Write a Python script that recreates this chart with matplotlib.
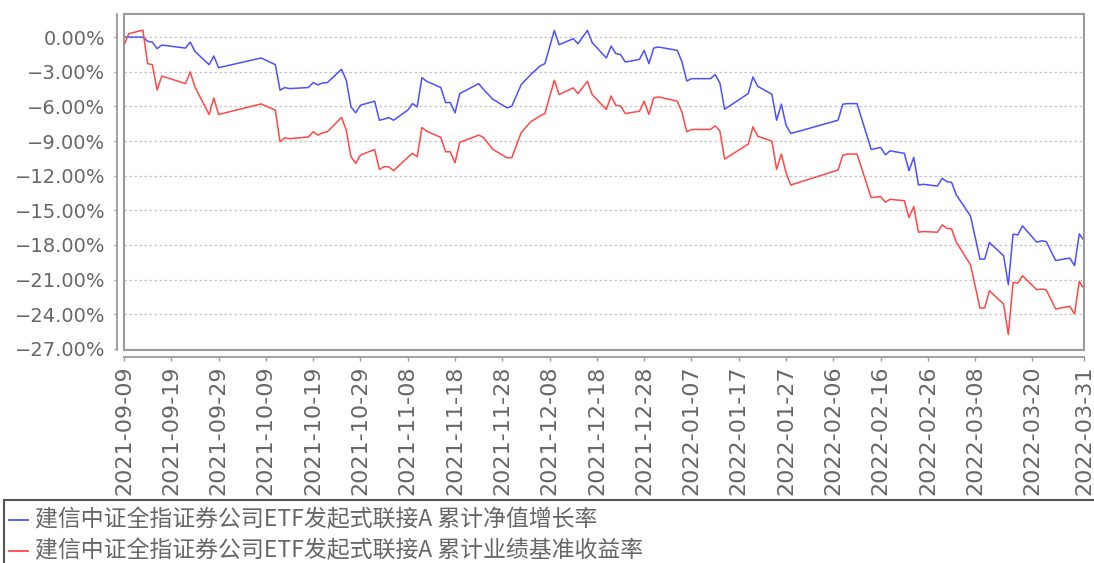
import matplotlib
matplotlib.use("Agg")
import matplotlib.pyplot as plt
from matplotlib.patches import Rectangle
from matplotlib.lines import Line2D
import pandas as pd

plt.rcParams["font.family"] = ["DejaVu Sans"]

# ── Data ──────────────────────────────────────────────────────────────────────

dates = [
    "2021-09-09", "2021-09-10", "2021-09-13", "2021-09-14", "2021-09-15", "2021-09-16",
    "2021-09-17", "2021-09-22", "2021-09-23", "2021-09-24", "2021-09-27", "2021-09-28",
    "2021-09-29", "2021-10-08", "2021-10-11", "2021-10-12", "2021-10-13", "2021-10-14",
    "2021-10-18", "2021-10-19", "2021-10-20", "2021-10-21", "2021-10-22", "2021-10-25",
    "2021-10-26", "2021-10-27", "2021-10-28", "2021-10-29", "2021-11-01", "2021-11-02",
    "2021-11-03", "2021-11-04", "2021-11-05", "2021-11-08", "2021-11-09", "2021-11-10",
    "2021-11-11", "2021-11-12", "2021-11-15", "2021-11-16", "2021-11-17", "2021-11-18",
    "2021-11-19", "2021-11-23", "2021-11-24", "2021-11-26", "2021-11-29", "2021-11-30",
    "2021-12-02", "2021-12-04", "2021-12-06", "2021-12-07", "2021-12-09", "2021-12-10",
    "2021-12-13", "2021-12-14", "2021-12-16", "2021-12-17", "2021-12-20", "2021-12-21",
    "2021-12-22", "2021-12-23", "2021-12-24", "2021-12-27", "2021-12-28", "2021-12-29",
    "2021-12-30", "2021-12-31", "2022-01-04", "2022-01-05", "2022-01-06", "2022-01-07",
    "2022-01-11", "2022-01-12", "2022-01-13", "2022-01-14", "2022-01-19", "2022-01-20",
    "2022-01-21", "2022-01-24", "2022-01-25", "2022-01-26", "2022-01-27", "2022-01-28",
    "2022-02-07", "2022-02-08", "2022-02-09", "2022-02-11", "2022-02-14", "2022-02-16",
    "2022-02-17", "2022-02-18", "2022-02-21", "2022-02-22", "2022-02-23", "2022-02-24",
    "2022-02-25", "2022-02-28", "2022-03-01", "2022-03-02", "2022-03-03", "2022-03-04",
    "2022-03-07", "2022-03-09", "2022-03-10", "2022-03-11", "2022-03-14", "2022-03-15",
    "2022-03-16", "2022-03-17", "2022-03-18", "2022-03-21", "2022-03-22", "2022-03-23",
    "2022-03-25", "2022-03-28", "2022-03-29", "2022-03-30", "2022-03-31",
]

nav_growth = [  # 累计净值增长率 (%)
    0.00, 0.00, 0.00, -0.37, -0.43, -1.00,
    -0.69, -0.95, -0.43, -1.24, -2.39, -1.64,
    -2.65, -1.81, -2.39, -4.60, -4.37, -4.46,
    -4.37, -3.94, -4.14, -3.97, -3.94, -2.79,
    -3.74, -6.05, -6.56, -5.90, -5.55, -7.20,
    -7.10, -6.97, -7.20, -6.33, -5.76, -6.05,
    -3.51, -3.83, -4.37, -5.67, -5.67, -6.56,
    -4.89, -4.03, -4.52, -5.38, -6.13, -5.99,
    -4.11, -3.25, -2.50, -2.30, 0.58, -0.66,
    -0.14, -0.57, 0.58, -0.48, -1.81, -0.78,
    -1.43, -1.52, -2.16, -1.93, -1.15, -2.30,
    -0.95, -0.86, -1.15, -2.16, -3.80, -3.60,
    -3.60, -3.25, -3.97, -6.25, -4.89, -3.45,
    -4.26, -4.95, -7.20, -5.81, -7.63, -8.35,
    -7.20, -5.81, -5.76, -5.76, -9.73, -9.56,
    -10.20, -9.85, -10.07, -11.57, -10.42, -12.81,
    -12.75, -12.90, -12.23, -12.52, -12.58, -13.67,
    -15.49, -19.23, -19.23, -17.79, -18.94, -21.45,
    -17.07, -17.13, -16.35, -17.76, -17.65, -17.70,
    -19.35, -19.14, -19.80, -17.04, -17.62,
]

benchmark = [  # 累计业绩基准收益率 (%)
    -0.72, 0.29, 0.60, -2.30, -2.39, -4.60,
    -3.37, -4.03, -3.02, -4.32, -6.70, -5.27,
    -6.70, -5.79, -6.33, -9.07, -8.72, -8.80,
    -8.65, -8.20, -8.49, -8.29, -8.20, -6.96,
    -8.06, -10.36, -10.94, -10.22, -9.73, -11.45,
    -11.23, -11.23, -11.57, -10.42, -10.07, -10.36,
    -7.83, -8.15, -8.69, -9.93, -9.93, -10.88,
    -9.12, -8.49, -8.69, -9.73, -10.45, -10.45,
    -8.26, -7.34, -6.82, -6.62, -3.74, -4.98,
    -4.40, -4.89, -3.83, -4.98, -6.27, -5.10,
    -5.90, -5.96, -6.62, -6.42, -5.55, -6.70,
    -5.27, -5.18, -5.55, -6.53, -8.20, -8.00,
    -8.00, -7.69, -8.12, -10.56, -9.27, -7.77,
    -8.58, -9.01, -11.45, -10.13, -11.75, -12.81,
    -11.51, -10.22, -10.13, -10.13, -13.90, -13.82,
    -14.30, -14.05, -14.17, -15.63, -14.68, -16.90,
    -16.84, -16.90, -16.27, -16.55, -16.61, -17.76,
    -19.72, -23.46, -23.46, -21.97, -23.12, -25.77,
    -21.25, -21.30, -20.67, -21.88, -21.82, -21.88,
    -23.55, -23.32, -23.98, -21.16, -21.82,
]

tick_dates = [
    "2021-09-09", "2021-09-19", "2021-09-29", "2021-10-09", "2021-10-19", "2021-10-29",
    "2021-11-08", "2021-11-18", "2021-11-28", "2021-12-08", "2021-12-18", "2021-12-28",
    "2022-01-07", "2022-01-17", "2022-01-27", "2022-02-06", "2022-02-16", "2022-02-26",
    "2022-03-08", "2022-03-20", "2022-03-31",
]
y_ticks = [0, -3, -6, -9, -12, -15, -18, -21, -24, -27]

series_names = [
    "建信中证全指证券公司ETF发起式联接A 累计净值增长率",
    "建信中证全指证券公司ETF发起式联接A 累计业绩基准收益率",
]

assert len(dates) == len(nav_growth) == len(benchmark)

# ── Plot ──────────────────────────────────────────────────────────────────────

BLUE = "#4f4fff"
RED = "#ff4848"
FRAME = "#9a9a9a"
LABEL = "#666666"

x = pd.to_datetime(dates)
W, H = 1094, 563
fig = plt.figure(figsize=(W / 100, H / 100), dpi=100)
ax = fig.add_axes([124 / W, (H - 350) / H, 960 / W, 336 / H])

ax.plot(x, nav_growth, color=BLUE, lw=1.1)
ax.plot(x, benchmark, color=RED, lw=1.1)

ax.set_xlim(pd.Timestamp(dates[0]), pd.Timestamp(tick_dates[-1]))
ax.set_ylim(-27.1, 2.0)

ax.set_yticks(y_ticks)
ax.set_yticklabels([f"{v:.2f}%".replace("-", "\u2212") for v in y_ticks])
ax.set_xticks(pd.to_datetime(tick_dates))
ax.set_xticklabels(tick_dates)

ax.grid(axis="y", color="#c4c4c4", ls=(0, (2, 2)), lw=0.9)
ax.grid(axis="x", visible=False)

for side in ("top", "right"):
    ax.spines[side].set_visible(False)
ax.spines["left"].set_position(("outward", 5))
ax.spines["bottom"].set_position(("outward", 5))
for side in ("left", "bottom"):
    ax.spines[side].set_color(FRAME)
    ax.spines[side].set_linewidth(1.3)

ax.add_patch(Rectangle((0, 0), 1, 1, transform=ax.transAxes, fill=False,
                       edgecolor=FRAME, lw=1.5, clip_on=False, zorder=5))

ax.tick_params(axis="y", length=2.5, width=1, color=FRAME, pad=6,
               labelsize=14, labelcolor=LABEL)
ax.tick_params(axis="x", length=3, width=1, color=FRAME, pad=3,
               labelsize=16, labelcolor=LABEL, labelrotation=90)

# Legend box (cut off at the right and bottom edges, as in the reference)
fig.add_artist(Rectangle((4 / W, -0.05), 1.1, (H - 500) / H + 0.05,
                         transform=fig.transFigure, fill=False,
                         edgecolor="#555555", lw=1.5, clip_on=False))
for name, color, ypx in zip(series_names, [BLUE, RED], [520, 551]):
    yf = 1 - ypx / H
    fig.add_artist(Line2D([9 / W, 28 / W], [yf, yf], color=color, lw=1.3,
                          transform=fig.transFigure))
    fig.text(35 / W, yf, name, color=LABEL, fontsize=16.5, va="center", ha="left",
             family=["Noto Sans CJK SC", "DejaVu Sans"])

fig.savefig("out.png", dpi=100)
